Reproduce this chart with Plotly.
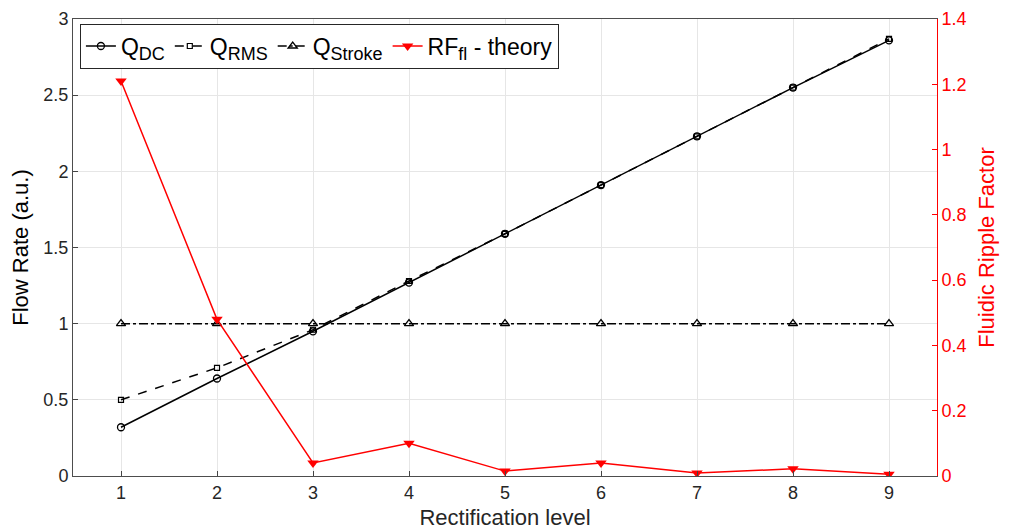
import plotly.graph_objects as go

levels = [1, 2, 3, 4, 5, 6, 7, 8, 9]
q_dc = [0.32, 0.64, 0.95, 1.27, 1.59, 1.91, 2.23, 2.55, 2.86]
q_rms = [0.50, 0.71, 0.96, 1.28, 1.59, 1.91, 2.23, 2.55, 2.87]
q_stroke = [1, 1, 1, 1, 1, 1, 1, 1, 1]
rf_theory = [1.21, 0.48, 0.04, 0.10, 0.015, 0.04, 0.009, 0.022, 0.005]

FONT = "Liberation Sans, Arial, sans-serif"
RED = "#ff0000"


def sub(s):
    return f"<sub><span style='font-size:18px'>{s}</span></sub>"


fig = go.Figure()
fig.add_trace(go.Scatter(
    x=levels, y=q_dc, mode="lines+markers", name="Q" + sub("DC"),
    line=dict(color="black", width=1.5),
    marker=dict(symbol="circle-open", size=7, color="black", line=dict(width=1.3)),
))
fig.add_trace(go.Scatter(
    x=levels, y=q_rms, mode="lines+markers", name="Q" + sub("RMS"),
    line=dict(color="black", width=1.5, dash="dash"),
    marker=dict(symbol="square-open", size=5, color="black", line=dict(width=1.2)),
))
fig.add_trace(go.Scatter(
    x=levels, y=q_stroke, mode="lines+markers", name="Q" + sub("Stroke"),
    line=dict(color="black", width=1.5, dash="dashdot"),
    marker=dict(symbol="triangle-up-open", size=8, color="black", line=dict(width=1.3)),
))
fig.add_trace(go.Scatter(
    x=levels, y=rf_theory, mode="lines+markers", name="RF" + sub("fl") + " - theory",
    yaxis="y2",
    line=dict(color=RED, width=1.5),
    marker=dict(symbol="triangle-down", size=10, color=RED),
))

fig.update_layout(
    width=1004, height=524,
    margin=dict(l=65, r=75, t=11, b=56),
    plot_bgcolor="white", paper_bgcolor="white",
    font=dict(family=FONT, size=18, color="#262626"),
    xaxis=dict(
        range=[0.5, 9.5], tickvals=levels, ticks="inside", ticklen=5,
        showline=True, linecolor="#4d4d4d", linewidth=1, mirror=True,
        showgrid=True, gridcolor="#e6e6e6", zeroline=False, automargin=False,
        title=dict(text="Rectification level", font=dict(size=22, color="#262626"), standoff=8),
        tickfont=dict(size=18, color="#262626"),
    ),
    yaxis=dict(
        range=[0, 3], dtick=0.5, ticks="inside", ticklen=5,
        showline=True, linecolor="#4d4d4d", linewidth=1,
        showgrid=True, gridcolor="#e6e6e6", zeroline=False, automargin=False,
        title=dict(text="Flow Rate (a.u.)", font=dict(size=22, color="black"), standoff=12),
        tickfont=dict(size=18, color="#262626"),
    ),
    yaxis2=dict(
        range=[0, 1.4], dtick=0.2, overlaying="y", side="right",
        ticks="inside", ticklen=5, tickcolor=RED,
        showline=True, linecolor=RED, linewidth=1,
        showgrid=False, zeroline=False, automargin=False,
        title=dict(text="Fluidic Ripple Factor", font=dict(size=22, color=RED), standoff=12),
        tickfont=dict(size=18, color=RED),
    ),
    legend=dict(
        orientation="h", x=0.008, y=0.99, xanchor="left", yanchor="top",
        bgcolor="white", bordercolor="#262626", borderwidth=1,
        font=dict(size=23, color="black"), itemwidth=30, tracegroupgap=0,
    ),
    showlegend=True,
)

fig.write_html("out.html")
